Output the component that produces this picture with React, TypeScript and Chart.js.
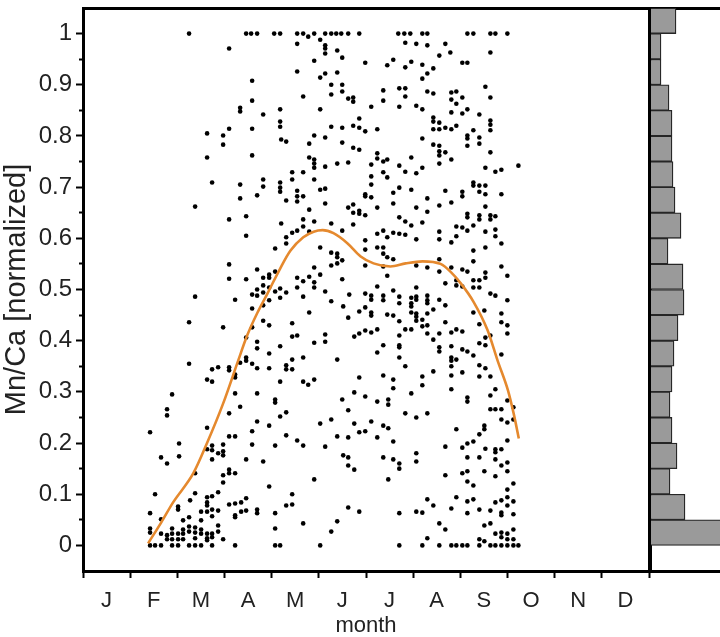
import React, { useEffect, useRef } from 'react';
import { Chart, registerables } from 'chart.js';

Chart.register(...registerables);

// ---------- DATA ----------
const monthLabels = ['J', 'F', 'M', 'A', 'M', 'J', 'J', 'A', 'S', 'O', 'N', 'D'];
const monthEdges = [0, 1, 2, 3, 4, 5, 6, 7, 8, 9, 10, 11, 12];
const yTickLabels = ['0', '0.1', '0.2', '0.3', '0.4', '0.5', '0.6', '0.7', '0.8', '0.9', '1'];
const yTickValues = [0, 0.05, 0.1, 0.15, 0.2, 0.25, 0.3, 0.35, 0.4, 0.45, 0.5, 0.55, 0.6, 0.65, 0.7, 0.75, 0.8, 0.85, 0.9, 0.95, 1];

// samples at Mn/Ca = 1 (month positions)
const topRowMonths = [2.249, 3.459, 3.565, 3.692, 4.053, 4.18, 4.541, 4.668, 4.902, 5.135, 5.263, 5.369, 5.475, 5.623, 5.857, 6.684, 6.812, 6.939, 7.194, 7.3, 8.149, 8.276, 8.637, 8.743, 8.997];
// samples at Mn/Ca = 0 (month positions)
const bottomRowMonths = [1.422, 1.528, 1.655, 1.889, 2.016, 2.249, 2.377, 2.504, 2.737, 3.225, 4.074, 4.18, 5.029, 6.706, 7.194, 7.554, 7.809, 7.915, 8.042, 8.149, 8.403, 8.637, 8.743, 8.87, 8.997, 9.125, 9.231];

// [month, Mn/Ca]
const earlyUpper: [number, number][] = [
  [4.775, 0.994], [4.541, 0.98], [5.029, 0.988], [3.098, 0.971], [5.135, 0.977], [5.135, 0.971], [5.135, 0.961], [5.39, 0.967], [5.496, 0.953], [4.902, 0.947], [5.984, 0.943], [4.541, 0.926], [5.029, 0.914], [5.135, 0.922], [5.39, 0.924], [5.263, 0.9], [5.496, 0.9], [3.586, 0.908], [5.263, 0.881], [5.496, 0.887], [4.668, 0.877], [5.623, 0.873], [5.729, 0.875], [5.729, 0.867], [3.586, 0.869], [3.332, 0.855], [3.332, 0.848], [3.82, 0.842], [4.18, 0.852], [5.029, 0.852], [6.111, 0.857], [5.857, 0.834], [4.18, 0.828], [4.18, 0.818], [2.631, 0.805], [3.098, 0.814], [2.971, 0.801], [2.971, 0.783], [3.586, 0.814], [5.263, 0.818], [5.496, 0.816], [5.729, 0.82], [5.857, 0.816], [5.984, 0.809], [6.239, 0.813], [4.202, 0.793], [4.308, 0.789], [4.902, 0.801], [5.135, 0.797], [4.796, 0.785], [5.496, 0.787], [5.729, 0.777], [5.857, 0.773], [2.631, 0.758], [3.586, 0.762], [4.796, 0.758], [4.902, 0.754], [4.902, 0.746], [4.902, 0.738], [5.135, 0.74], [5.39, 0.746], [5.623, 0.748], [6.111, 0.744], [6.239, 0.766], [6.239, 0.756],
  [2.737, 0.709], [3.332, 0.705], [3.82, 0.715], [3.82, 0.701], [4.18, 0.709], [4.18, 0.699], [4.18, 0.691], [4.435, 0.729], [4.435, 0.715], [4.668, 0.729], [4.902, 0.715], [5.029, 0.695], [5.135, 0.697], [6.111, 0.721], [6.111, 0.705], [3.332, 0.678], [3.692, 0.684], [4.308, 0.674], [4.541, 0.693], [4.541, 0.682], [4.541, 0.672], [4.668, 0.682], [5.135, 0.668], [4.796, 0.656], [5.623, 0.66], [5.729, 0.666], [5.729, 0.65], [5.857, 0.654], [5.984, 0.686], [5.984, 0.682], [6.111, 0.68], [6.239, 0.66], [2.377, 0.662], [3.098, 0.637], [3.459, 0.643], [4.202, 0.629], [4.668, 0.637], [4.668, 0.623], [4.902, 0.633], [5.263, 0.629], [5.496, 0.615], [5.729, 0.627], [5.857, 0.648], [5.984, 0.645], [6.239, 0.609], [3.459, 0.605], [4.308, 0.602], [4.308, 0.59], [4.435, 0.611], [4.541, 0.615], [4.796, 0.613], [5.029, 0.582], [4.074, 0.58], [5.263, 0.572], [5.39, 0.57], [5.39, 0.563], [5.496, 0.557], [5.263, 0.547], [5.39, 0.551], [5.984, 0.596], [5.984, 0.578], [6.239, 0.582], [5.984, 0.547], [3.098, 0.549], [3.098, 0.521], [3.459, 0.52], [3.692, 0.539], [3.947, 0.529], [3.947, 0.523], [4.074, 0.535], [3.82, 0.523], [4.902, 0.543], [4.796, 0.525], [5.029, 0.529], [4.541, 0.523], [4.668, 0.516], [5.496, 0.52],
];

const lateUpper: [number, number][] = [
  [6.833, 0.982], [7.066, 0.98], [7.3, 0.977], [7.682, 0.98], [7.554, 0.957], [7.788, 0.963], [8.637, 0.963], [6.578, 0.949], [6.451, 0.938], [6.833, 0.934], [6.96, 0.945], [7.194, 0.939], [7.3, 0.922], [7.427, 0.932], [7.194, 0.912], [8.042, 0.943], [8.149, 0.943], [6.366, 0.889], [6.366, 0.869], [6.706, 0.893], [6.833, 0.893], [6.833, 0.877], [6.706, 0.857], [7.3, 0.887], [7.427, 0.883], [7.066, 0.859], [7.194, 0.852], [7.809, 0.885], [7.915, 0.887], [8.042, 0.875], [7.809, 0.871], [7.915, 0.863], [7.809, 0.846], [8.042, 0.844], [8.149, 0.852], [8.403, 0.842], [8.531, 0.896], [8.637, 0.875], [7.427, 0.836], [7.427, 0.828], [7.554, 0.826], [7.427, 0.813], [7.554, 0.813], [7.682, 0.816], [7.809, 0.813], [7.915, 0.82], [8.149, 0.801], [8.149, 0.795], [8.276, 0.811], [8.403, 0.797], [8.403, 0.785], [8.149, 0.781], [8.637, 0.83], [8.637, 0.822], [8.637, 0.811], [7.194, 0.795], [7.427, 0.783], [7.554, 0.781], [7.554, 0.77], [7.554, 0.762], [7.682, 0.768], [7.809, 0.754], [7.554, 0.746], [8.637, 0.768],
  [6.366, 0.75], [6.451, 0.754], [6.366, 0.729], [6.451, 0.719], [6.706, 0.742], [6.833, 0.73], [6.96, 0.758], [7.066, 0.727], [7.194, 0.738], [8.531, 0.738], [8.743, 0.73], [8.87, 0.734], [9.231, 0.742], [6.578, 0.689], [6.706, 0.699], [6.96, 0.695], [6.578, 0.668], [7.066, 0.66], [7.3, 0.678], [7.3, 0.652], [7.554, 0.664], [7.682, 0.693], [7.809, 0.67], [8.042, 0.691], [8.042, 0.682], [8.276, 0.709], [8.276, 0.703], [8.403, 0.703], [8.403, 0.691], [8.531, 0.703], [8.531, 0.686], [8.87, 0.686], [8.149, 0.648], [8.149, 0.641], [8.403, 0.645], [8.403, 0.637], [8.637, 0.645], [8.637, 0.637], [8.743, 0.643], [8.531, 0.662], [6.706, 0.641], [6.833, 0.633], [6.96, 0.625], [7.194, 0.631], [6.366, 0.615], [6.451, 0.602], [6.578, 0.611], [6.706, 0.609], [6.833, 0.607], [7.066, 0.598], [7.554, 0.613], [7.554, 0.598], [7.809, 0.592], [7.915, 0.604], [7.915, 0.623], [8.042, 0.621], [8.149, 0.615], [8.276, 0.625], [8.531, 0.613], [8.743, 0.617], [8.743, 0.604], [8.531, 0.582], [8.87, 0.59], [6.366, 0.582], [6.366, 0.57], [6.451, 0.563], [6.578, 0.559], [6.366, 0.545], [6.451, 0.527], [7.066, 0.547], [7.3, 0.543], [7.554, 0.559], [7.554, 0.535], [7.809, 0.543], [8.042, 0.539], [8.149, 0.535], [7.915, 0.518], [8.276, 0.576], [8.276, 0.555], [8.531, 0.533], [8.531, 0.523], [8.87, 0.545], [8.997, 0.527],
];

const earlyLower: [number, number][] = [
  [2.377, 0.486], [2.249, 0.436], [2.249, 0.355], [2.971, 0.426], [3.225, 0.48], [1.889, 0.295], [1.782, 0.266], [1.782, 0.254], [1.422, 0.221], [2.631, 0.324], [2.737, 0.32], [2.737, 0.344], [2.865, 0.348], [3.098, 0.348], [3.098, 0.342], [3.225, 0.334], [3.225, 0.328], [3.332, 0.357], [3.459, 0.367], [3.459, 0.361], [3.586, 0.355], [3.692, 0.346], [3.947, 0.346], [4.18, 0.32], [4.435, 0.344], [4.308, 0.352], [4.308, 0.344], [4.435, 0.363], [4.668, 0.367], [4.902, 0.396], [5.135, 0.412], [5.135, 0.398], [5.39, 0.363], [4.668, 0.32], [4.775, 0.314], [4.902, 0.324], [3.692, 0.398], [3.692, 0.385], [3.947, 0.375], [4.18, 0.389], [4.435, 0.408], [4.541, 0.41], [3.692, 0.297], [4.074, 0.285], [4.074, 0.279], [4.18, 0.252], [4.308, 0.26], [3.332, 0.271], [3.098, 0.258], [3.225, 0.297], [2.037, 0.199], [2.037, 0.174], [1.655, 0.172], [1.782, 0.16], [2.631, 0.23], [2.631, 0.188], [2.737, 0.195], [2.737, 0.186], [2.865, 0.18], [2.971, 0.184], [2.971, 0.176], [2.737, 0.168], [2.971, 0.197], [3.098, 0.213], [3.225, 0.213], [3.459, 0.168], [3.586, 0.223], [3.586, 0.197], [3.692, 0.242], [3.82, 0.164], [3.947, 0.234], [4.074, 0.195], [4.308, 0.215], [4.541, 0.205], [4.668, 0.195], [5.029, 0.238], [5.135, 0.193], [5.263, 0.246], [5.39, 0.213], [5.517, 0.176], [5.623, 0.172], [5.623, 0.156], [5.751, 0.148], [5.623, 0.211], [5.623, 0.264], [5.751, 0.238], [5.857, 0.221], [5.984, 0.223], [6.111, 0.242], [6.239, 0.211], [5.751, 0.299], [5.984, 0.291], [6.239, 0.281], [5.857, 0.328], [5.496, 0.285], [5.623, 0.445], [5.751, 0.408], [5.857, 0.414], [5.984, 0.42], [6.111, 0.416], [6.239, 0.422], [5.857, 0.457], [5.984, 0.465], [6.111, 0.455], [6.111, 0.449], [6.239, 0.377], [5.517, 0.467], [5.263, 0.477], [5.135, 0.496], [4.902, 0.504], [4.902, 0.514], [4.668, 0.486], [4.541, 0.504], [4.308, 0.494], [4.18, 0.484], [4.18, 0.502], [4.074, 0.496], [3.947, 0.504], [3.82, 0.508], [3.82, 0.494], [3.692, 0.5], [3.692, 0.488], [3.586, 0.49], [3.586, 0.463], [3.82, 0.469], [3.947, 0.479], [3.82, 0.439], [3.947, 0.43], [3.586, 0.426], [3.459, 0.406], [4.796, 0.455], [4.435, 0.434], [5.645, 0.49], [5.984, 0.492], [6.111, 0.488], [6.111, 0.48], [6.239, 0.506],
  [1.422, 0.063], [1.422, 0.033], [1.422, 0.025], [1.655, 0.051], [1.528, 0.1], [2.016, 0.076], [2.016, 0.07], [2.377, 0.141], [2.377, 0.102], [2.271, 0.088], [2.504, 0.066], [2.631, 0.094], [2.631, 0.084], [2.631, 0.078], [2.737, 0.096], [2.865, 0.104], [2.631, 0.066], [2.737, 0.07], [2.865, 0.068], [2.971, 0.123], [2.971, 0.137], [3.098, 0.148], [3.098, 0.141], [3.225, 0.141], [3.098, 0.08], [3.225, 0.082], [3.353, 0.084], [3.225, 0.059], [3.225, 0.055], [3.353, 0.066], [3.459, 0.068], [3.459, 0.092], [3.692, 0.07], [3.692, 0.063], [3.947, 0.115], [4.074, 0.063], [4.074, 0.033], [4.308, 0.078], [4.435, 0.08], [4.435, 0.1], [4.668, 0.043], [4.902, 0.129], [5.263, 0.027], [5.39, 0.047], [5.623, 0.074], [5.857, 0.066], [1.655, 0.023], [1.782, 0.02], [1.782, 0.012], [1.889, 0.033], [1.889, 0.023], [1.889, 0.012], [2.016, 0.023], [2.016, 0.012], [2.122, 0.049], [2.122, 0.031], [2.122, 0.023], [2.249, 0.055], [2.249, 0.037], [2.249, 0.027], [2.377, 0.035], [2.377, 0.025], [2.504, 0.049], [2.504, 0.031], [2.504, 0.023], [2.631, 0.023], [2.631, 0.014], [2.631, 0.01], [2.737, 0.023], [2.737, 0.016], [2.865, 0.039], [2.865, 0.027], [2.971, 0.012], [2.737, 0.057], [2.377, 0.014], [2.122, 0.012],
];

const lateLower: [number, number][] = [
  [6.366, 0.488], [6.366, 0.479], [6.578, 0.498], [6.706, 0.486], [6.706, 0.473], [6.96, 0.484], [6.96, 0.473], [6.96, 0.467], [7.066, 0.486], [7.066, 0.48], [7.3, 0.488], [7.3, 0.479], [7.3, 0.473], [7.066, 0.504], [7.554, 0.48], [7.682, 0.469], [7.682, 0.512], [7.915, 0.508], [8.042, 0.506], [8.276, 0.518], [8.403, 0.518], [8.276, 0.504], [8.403, 0.504], [6.451, 0.451], [6.578, 0.449], [6.706, 0.438], [6.96, 0.455], [7.066, 0.453], [7.066, 0.447], [7.066, 0.439], [7.194, 0.441], [7.3, 0.453], [7.3, 0.43], [7.194, 0.428], [7.3, 0.414], [7.427, 0.461], [7.427, 0.402], [7.554, 0.414], [7.682, 0.436], [7.809, 0.416], [7.915, 0.422], [8.042, 0.418], [8.276, 0.455], [8.509, 0.459], [8.403, 0.432], [8.637, 0.492], [8.743, 0.488], [8.87, 0.453], [8.87, 0.436], [8.997, 0.479], [8.997, 0.43], [8.997, 0.414], [6.706, 0.41], [6.833, 0.422], [6.96, 0.422], [6.366, 0.391], [6.706, 0.391], [6.706, 0.387], [6.706, 0.367], [6.833, 0.35], [7.554, 0.387], [7.554, 0.379], [7.809, 0.389], [7.809, 0.367], [7.809, 0.361], [7.915, 0.363], [7.809, 0.35], [8.042, 0.383], [8.149, 0.379], [8.276, 0.371], [8.403, 0.395], [8.531, 0.391], [8.531, 0.406], [8.637, 0.41], [8.87, 0.373], [8.403, 0.352], [8.531, 0.346], [7.194, 0.33], [7.194, 0.313], [6.578, 0.324], [6.578, 0.307], [6.366, 0.332], [6.96, 0.297], [7.427, 0.34], [7.809, 0.332], [8.042, 0.338], [7.809, 0.305], [8.403, 0.33], [8.637, 0.33], [8.743, 0.305], [8.637, 0.293], [8.149, 0.289], [8.149, 0.281],
  [6.472, 0.285], [6.472, 0.275], [6.833, 0.258], [7.066, 0.25], [7.3, 0.258], [6.366, 0.234], [6.472, 0.229], [6.578, 0.203], [6.366, 0.172], [6.578, 0.168], [6.706, 0.16], [6.706, 0.15], [6.472, 0.129], [7.066, 0.18], [7.066, 0.164], [7.682, 0.193], [7.915, 0.227], [8.042, 0.191], [8.149, 0.199], [8.276, 0.203], [8.403, 0.217], [8.509, 0.234], [8.509, 0.227], [8.637, 0.266], [8.743, 0.266], [8.87, 0.266], [8.87, 0.246], [8.997, 0.24], [8.997, 0.283], [9.125, 0.27], [9.125, 0.246], [8.997, 0.205], [8.149, 0.172], [8.403, 0.172], [8.531, 0.189], [8.743, 0.188], [8.743, 0.182], [8.87, 0.188], [8.743, 0.168], [8.87, 0.156], [8.997, 0.162], [8.149, 0.145], [8.149, 0.125], [8.276, 0.117], [8.042, 0.141], [7.682, 0.137], [8.509, 0.145], [8.743, 0.135], [8.997, 0.145], [9.125, 0.121], [8.997, 0.109], [7.3, 0.09], [7.427, 0.078], [7.915, 0.094], [7.809, 0.072], [8.149, 0.086], [8.276, 0.09], [8.149, 0.063], [8.403, 0.07], [8.637, 0.068], [8.743, 0.084], [8.87, 0.088], [8.87, 0.064], [8.87, 0.059], [8.997, 0.094], [8.997, 0.078], [9.125, 0.086], [9.125, 0.061], [6.706, 0.063], [7.066, 0.066], [7.194, 0.064], [7.554, 0.043], [7.682, 0.031], [8.509, 0.039], [8.637, 0.043], [8.743, 0.023], [8.87, 0.025], [8.87, 0.016], [8.997, 0.023], [8.997, 0.012], [9.125, 0.031], [9.125, 0.012], [7.3, 0.014], [8.403, 0.012], [8.509, 0.008],
];

// smoothed fit (orange)
const curveMonths = [1.38, 1.66, 1.91, 2.34, 2.63, 2.97, 3.29, 3.48, 3.7, 3.91, 4.18, 4.4, 4.67, 4.89, 5.08, 5.31, 5.61, 5.88, 6.16, 6.52, 6.84, 7.2, 7.58, 7.8, 8.01, 8.28, 8.58, 8.79, 9.01, 9.13, 9.24];
const curveValues = [0.004, 0.045, 0.084, 0.141, 0.2, 0.277, 0.361, 0.41, 0.455, 0.492, 0.541, 0.576, 0.602, 0.613, 0.616, 0.61, 0.59, 0.565, 0.551, 0.545, 0.551, 0.555, 0.55, 0.534, 0.512, 0.476, 0.42, 0.361, 0.303, 0.258, 0.209];

// histogram of Mn/Ca (bins of 0.05, bottom to top)
const histBinCenters = [0.025, 0.075, 0.125, 0.175, 0.225, 0.275, 0.325, 0.375, 0.425, 0.475, 0.525, 0.575, 0.625, 0.675, 0.725, 0.775, 0.825, 0.875, 0.925, 0.975, 1.025];
const histCounts = [120, 35, 20, 27, 22, 20, 22, 24, 28, 34, 33, 18, 31, 25, 23, 22, 22, 19, 11, 11, 26];

// ---------- STYLE ----------
const FONT = "'Liberation Sans', Arial, Helvetica, sans-serif";
const TEXT = '#222222';
const AXIS = '#000000';

const zeroPad = (s: any) => {
  s.paddingLeft = 0;
  s.paddingRight = 0;
  s.paddingTop = 0;
  s.paddingBottom = 0;
};

function mainConfig(): any {
  const scatterPts = [
    ...earlyUpper, ...lateUpper, ...earlyLower, ...lateLower,
    ...topRowMonths.map((m) => [m, 1] as [number, number]),
    ...bottomRowMonths.map((m) => [m, 0] as [number, number]),
  ].map(([x, y]) => ({ x, y }));
  const curve = curveMonths.map((m, i) => ({ x: m, y: curveValues[i] }));

  return {
    type: 'scatter',
    data: {
      datasets: [
        {
          type: 'line',
          data: curve,
          borderColor: '#E5892E',
          borderWidth: 2.6,
          pointRadius: 0,
          fill: false,
          cubicInterpolationMode: 'monotone',
          order: 0,
        },
        {
          type: 'scatter',
          data: scatterPts,
          pointRadius: 2.3,
          pointBackgroundColor: '#000',
          pointBorderWidth: 0,
          order: 1,
        },
      ],
    },
    options: {
      responsive: false,
      animation: false,
      devicePixelRatio: 1,
      layout: { padding: { top: 8, right: 71, left: 0, bottom: 0 } },
      plugins: { legend: { display: false }, tooltip: { enabled: false } },
      scales: {
        x: {
          type: 'linear',
          position: 'bottom',
          min: 0,
          max: 12,
          afterBuildTicks: (s: any) => {
            s.ticks = monthEdges.map((v) => ({ value: v }));
          },
          ticks: {
            callback: (_v: any, i: number) => monthLabels[i] ?? '',
            labelOffset: 23.5,
            autoSkip: false,
            maxRotation: 0,
            minRotation: 0,
            padding: 10,
            color: TEXT,
            font: { family: FONT, size: 22 },
          },
          grid: { drawOnChartArea: false, drawTicks: true, tickLength: 7, tickWidth: 2, tickColor: AXIS },
          border: { display: true, width: 3, color: AXIS },
          title: {
            display: true,
            text: 'month',
            color: TEXT,
            font: { family: FONT, size: 22, lineHeight: 1 },
            padding: { top: 0, bottom: 0 },
          },
          afterFit: (s: any) => {
            s.height = 66;
            zeroPad(s);
          },
        },
        y: {
          type: 'linear',
          position: 'left',
          min: -0.05,
          max: 1.05,
          afterBuildTicks: (s: any) => {
            s.ticks = yTickValues.map((v) => ({ value: v }));
          },
          ticks: {
            callback: (_v: any, i: number) => (i % 2 === 0 ? yTickLabels[i / 2] : ''),
            autoSkip: false,
            padding: 4,
            color: TEXT,
            font: { family: FONT, size: 24 },
          },
          grid: {
            drawOnChartArea: false,
            drawTicks: true,
            tickLength: 7,
            tickWidth: 2,
            tickColor: AXIS,
            tickBorderDash: (ctx: any) => (ctx.index % 2 === 1 ? [4, 20] : []),
            tickBorderDashOffset: (ctx: any) => (ctx.index % 2 === 1 ? 21 : 0),
          },
          border: { display: true, width: 3, color: AXIS },
          title: {
            display: true,
            text: 'Mn/Ca [normalized]',
            color: TEXT,
            font: { family: FONT, size: 29, lineHeight: 1.05 },
            padding: { top: 2, bottom: 0 },
          },
          afterFit: (s: any) => {
            s.width = 83;
            zeroPad(s);
          },
        },
        xTop: {
          type: 'linear',
          position: 'top',
          display: true,
          ticks: { display: false },
          grid: { display: false, drawTicks: false },
          border: { display: true, width: 3, color: AXIS },
          afterFit: (s: any) => {
            s.height = 0;
            zeroPad(s);
          },
        },
        yRight: {
          type: 'linear',
          position: 'right',
          display: true,
          ticks: { display: false },
          grid: { display: false, drawTicks: false },
          border: { display: true, width: 3, color: AXIS },
          afterFit: (s: any) => {
            s.width = 0;
            zeroPad(s);
          },
        },
      },
    },
  };
}

function histConfig(): any {
  return {
    type: 'bar',
    data: {
      datasets: [
        {
          data: histBinCenters.map((c, i) => ({ x: histCounts[i], y: c })),
          backgroundColor: '#9a9a9a',
          borderColor: '#262626',
          borderWidth: 1.3,
          borderSkipped: false,
          barPercentage: 1,
          categoryPercentage: 1,
        },
      ],
    },
    options: {
      indexAxis: 'y',
      responsive: false,
      animation: false,
      devicePixelRatio: 1,
      layout: { padding: { top: 8, right: 0, left: 0, bottom: 0 } },
      plugins: { legend: { display: false }, tooltip: { enabled: false } },
      scales: {
        y: {
          type: 'linear',
          position: 'left',
          min: -0.05,
          max: 1.05,
          offset: false,
          ticks: { display: false },
          grid: { display: false, drawTicks: false, offset: false },
          border: { display: true, width: 3, color: AXIS },
          afterFit: (s: any) => {
            s.width = 650;
            zeroPad(s);
          },
        },
        x: {
          type: 'linear',
          position: 'bottom',
          min: 0,
          max: 70,
          offset: false,
          ticks: { display: false },
          grid: { display: false, drawTicks: false },
          border: { display: true, width: 3, color: AXIS },
          afterFit: (s: any) => {
            s.height = 66;
            zeroPad(s);
          },
        },
        xTop: {
          type: 'linear',
          position: 'top',
          display: true,
          ticks: { display: false },
          grid: { display: false, drawTicks: false },
          border: { display: true, width: 3, color: AXIS },
          afterFit: (s: any) => {
            s.height = 0;
            zeroPad(s);
          },
        },
      },
    },
  };
}

export default function App() {
  const mainRef = useRef<HTMLCanvasElement>(null);
  const histRef = useRef<HTMLCanvasElement>(null);

  useEffect(() => {
    const c2 = new Chart(histRef.current as HTMLCanvasElement, histConfig());
    const c1 = new Chart(mainRef.current as HTMLCanvasElement, mainConfig());
    return () => {
      c1.destroy();
      c2.destroy();
    };
  }, []);

  return (
    <div style={{ position: 'absolute', left: 0, top: 0, width: 720, height: 637, background: '#fff', overflow: 'hidden' }}>
      <canvas ref={histRef} width={720} height={637} style={{ position: 'absolute', left: 0, top: 0 }} />
      <canvas ref={mainRef} width={720} height={637} style={{ position: 'absolute', left: 0, top: 0 }} />
    </div>
  );
}
